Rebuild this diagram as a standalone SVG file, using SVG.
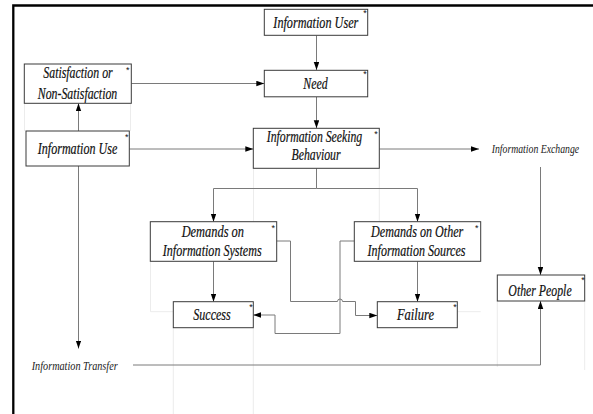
<svg xmlns="http://www.w3.org/2000/svg" width="593" height="414" viewBox="0 0 593 414">
<style>
  .box { fill: #fff; stroke: #3a3a3a; stroke-width: 1; }
  .lbl { font-family: "Liberation Serif", "Times New Roman", serif; font-style: italic; font-size: 16px; fill: #111; stroke: #111; stroke-width: 0.2; text-anchor: middle; }
  .side { font-family: "Liberation Serif", "Times New Roman", serif; font-style: italic; font-size: 12.5px; fill: #222; }
  .ast { font-family: "Liberation Sans", Arial, sans-serif; font-size: 9px; fill: #111; text-anchor: middle; }
  .con { fill: none; stroke: #7a7a7a; stroke-width: 1; marker-end: url(#arr); }
  .faint { fill: none; stroke: #ececec; stroke-width: 1; }
</style>
<defs>
  <marker id="arr" markerUnits="userSpaceOnUse" markerWidth="9" markerHeight="6" refX="8" refY="2.75" orient="auto">
    <path d="M0,0 L8,2.75 L0,5.5 z" fill="#000"/>
  </marker>
</defs>
<rect width="593" height="414" fill="#fff"/>
<path d="M13.3,420 V5.5 H600" fill="none" stroke="#000" stroke-width="2.3"/>

<g id="faint-traces">
  <path class="faint" d="M24.5,103.5 V131 M130.5,103.5 V131"/>
  <path class="faint" d="M379.3,168.5 V221.5 M253.5,168.5 V221.5"/>
  <path class="faint" d="M150.5,261.5 V311.7 H173.3 M173.3,327.7 V414 M253.3,327.7 V414"/>
  <path class="faint" d="M457.3,311.7 H480.7 M497.3,301 V367 M584.7,301 V370"/>
</g>

<g id="connectors">
  <path class="con" d="M316.5,35.5 V70"/>
  <path class="con" d="M316.5,97 V128.3"/>
  <path class="con" d="M131.3,83.5 H264.3"/>
  <path class="con" d="M129.3,149 H253.3"/>
  <path class="con" d="M78.5,131 V103.3"/>
  <path class="con" d="M78.5,166 V348.5"/>
  <path class="con" d="M379.3,149 H479"/>
  <path class="con" d="M540.5,167 V275"/>
  <path class="con" d="M316.5,168.3 V188.5 H213.5 V221.7"/>
  <path class="con" d="M316.5,188.5 H417.5 V221.7"/>
  <path class="con" d="M213.5,261.3 V301.7"/>
  <path class="con" d="M417.5,261.3 V301.7"/>
  <path class="con" d="M276.7,241 H290.5 V301.5 H337.5 A2.5,2.5 0 0 1 342.5,301.5 H355.5 V315.5 H377.3"/>
  <path class="con" d="M354.3,241 H340 V333.5 H275 V315 H253.3"/>
  <path class="con" d="M133,365 H540.5 V301"/>
</g>

<g id="information-user">
  <rect class="box" x="264.3" y="9.3" width="103.4" height="26"/>
  <text class="lbl" transform="translate(315.8,28.2) scale(0.762,1)">Information User</text>
  <text class="ast" x="365" y="16">*</text>
</g>
<g id="need">
  <rect class="box" x="264.3" y="70.3" width="103.4" height="26.5"/>
  <text class="lbl" transform="translate(315.5,88.5) scale(0.742,1)">Need</text>
  <text class="ast" x="365" y="77">*</text>
</g>
<g id="satisfaction">
  <rect class="box" x="24.3" y="64" width="107" height="39.3"/>
  <text class="lbl" transform="translate(78,77.7) scale(0.74,1)">Satisfaction or</text>
  <text class="lbl" transform="translate(77.5,98.7) scale(0.74,1)">Non-Satisfaction</text>
  <text class="ast" x="127.7" y="72.5">*</text>
</g>
<g id="information-use">
  <rect class="box" x="26" y="131" width="103.3" height="35"/>
  <text class="lbl" transform="translate(77.5,154.3) scale(0.756,1)">Information Use</text>
  <text class="ast" x="126.7" y="139.5">*</text>
</g>
<g id="information-seeking-behaviour">
  <rect class="box" x="253.3" y="128.3" width="126" height="40"/>
  <text class="lbl" transform="translate(314.5,142) scale(0.734,1)">Information Seeking</text>
  <text class="lbl" transform="translate(316,159.7) scale(0.735,1)">Behaviour</text>
  <text class="ast" x="376" y="137">*</text>
</g>
<g id="demands-information-systems">
  <rect class="box" x="150.3" y="221.7" width="126.4" height="39.6"/>
  <text class="lbl" transform="translate(212.8,237) scale(0.775,1)">Demands on</text>
  <text class="lbl" transform="translate(212.2,256) scale(0.755,1)">Information Systems</text>
  <text class="ast" x="273.3" y="230.5">*</text>
</g>
<g id="demands-other-sources">
  <rect class="box" x="354.3" y="221.7" width="126.4" height="39.6"/>
  <text class="lbl" transform="translate(417.2,237) scale(0.758,1)">Demands on Other</text>
  <text class="lbl" transform="translate(416.5,256) scale(0.751,1)">Information Sources</text>
  <text class="ast" x="476.7" y="230.5">*</text>
</g>
<g id="success">
  <rect class="box" x="173.3" y="301.7" width="80" height="26"/>
  <text class="lbl" transform="translate(212,320.3) scale(0.751,1)">Success</text>
  <text class="ast" x="251" y="309.5">*</text>
</g>
<g id="failure">
  <rect class="box" x="377.3" y="301.7" width="80" height="26"/>
  <text class="lbl" transform="translate(415.5,320.3) scale(0.783,1)">Failure</text>
  <text class="ast" x="455" y="309.5">*</text>
</g>
<g id="other-people">
  <rect class="box" x="497.3" y="275" width="87.4" height="26"/>
  <text class="lbl" transform="translate(540,296.3) scale(0.739,1)">Other People</text>
  <text class="ast" x="583" y="283">*</text>
</g>
<g id="information-exchange">
  <text class="side" transform="translate(491.7,153.3) scale(0.781,1)">Information Exchange</text>
</g>
<g id="information-transfer">
  <text class="side" transform="translate(31.7,370) scale(0.818,1)">Information Transfer</text>
</g>
</svg>
